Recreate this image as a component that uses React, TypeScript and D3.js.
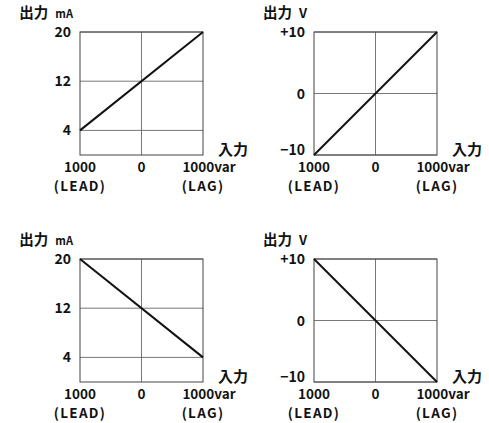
import * as d3 from 'd3';

// input axis (var)
const inputDomain = [-1000, 1000];
const xTickValues = [-1000, 0, 1000];
const xTickLabels = ['1000', '0', '1000var'];
const xTickSubLabels = ['(LEAD)', '', '(LAG)'];

// output axes
const mADomain = [0, 20];
const mATicks = [4, 12, 20];
const mATickLabels = ['4', '12', '20'];
const vDomain = [-10, 10];
const vTicks = [-10, 0, 10];
const vTickLabels = ['−10', '0', '+10'];

// output at input -1000 and +1000
const mADirect = [4, 20];
const mAReverse = [20, 4];
const vDirect = [-10, 10];
const vReverse = [10, -10];

const FONT = '"Noto Sans CJK JP", "Noto Sans", sans-serif';
const SIZE = 123;

interface PanelProps {
  ox: number;
  oy: number;
  unit: string;
  unitSize: number;
  yDomain: number[];
  yTicks: number[];
  yTickLabels: string[];
  values: number[];
}

function Panel({ ox, oy, unit, unitSize, yDomain, yTicks, yTickLabels, values }: PanelProps) {
  const x = d3.scaleLinear().domain(inputDomain).range([ox, ox + SIZE]);
  const y = d3.scaleLinear().domain(yDomain).range([oy + SIZE, oy]);
  const line = d3
    .line<number>()
    .x((_, i) => x(inputDomain[i]))
    .y((d) => y(d));

  return (
    <g fontFamily={FONT} fill="#111" fontWeight={700}>
      {/* grid */}
      {yTicks.map((t) => (
        <line key={'h' + t} x1={ox} x2={ox + SIZE} y1={y(t)} y2={y(t)} stroke="#555" strokeWidth={0.8} />
      ))}
      <line x1={x(0)} x2={x(0)} y1={oy} y2={oy + SIZE} stroke="#555" strokeWidth={0.8} />
      <rect x={ox} y={oy} width={SIZE} height={SIZE} fill="none" stroke="#444" strokeWidth={1} />
      <path d={line(values) || ''} fill="none" stroke="#111" strokeWidth={2} />

      {/* y tick labels (bottom one lifted clear of the x labels) */}
      {yTicks.map((t, i) => (
        <text
          key={'yl' + t}
          x={ox - 9}
          y={y(t) - (y(t) >= oy + SIZE - 1 ? 5 : 0)}
          dy="0.36em"
          textAnchor="end"
          fontSize={14}
        >
          {yTickLabels[i]}
        </text>
      ))}
      {/* title */}
      <text x={ox - 7} y={oy - 19} dy="0.36em" textAnchor="end" fontSize={14.5}>
        出力
        <tspan dx={7} fontSize={unitSize}>{unit}</tspan>
      </text>
      <text x={ox + SIZE + 15} y={oy + SIZE - 5} dy="0.36em" fontSize={15}>
        入力
      </text>

      {/* x tick labels */}
      {xTickValues.map((t, i) => (
        <g key={'xl' + t}>
          <text
            x={x(t) + (i === 2 ? 6 : 0)}
            y={oy + SIZE + 12}
            dy="0.36em"
            textAnchor="middle"
            fontSize={13.5}
          >
            {xTickLabels[i]}
          </text>
          <text
            x={x(t)}
            y={oy + SIZE + 31}
            dy="0.36em"
            textAnchor="middle"
            fontSize={13.5}
            letterSpacing={1.3}
          >
            {xTickSubLabels[i]}
          </text>
        </g>
      ))}
    </g>
  );
}

export default function App() {
  return (
    <svg
      width={489}
      height={423}
      viewBox="0 0 489 423"
      style={{ position: 'absolute', left: 0, top: 0, background: '#fff' }}
    >
      <Panel ox={80} oy={32} unit="mA" unitSize={11} yDomain={mADomain} yTicks={mATicks} yTickLabels={mATickLabels} values={mADirect} />
      <Panel ox={314} oy={32} unit="V" unitSize={13} yDomain={vDomain} yTicks={vTicks} yTickLabels={vTickLabels} values={vDirect} />
      <Panel ox={80} oy={259} unit="mA" unitSize={11} yDomain={mADomain} yTicks={mATicks} yTickLabels={mATickLabels} values={mAReverse} />
      <Panel ox={314} oy={259} unit="V" unitSize={13} yDomain={vDomain} yTicks={vTicks} yTickLabels={vTickLabels} values={vReverse} />
    </svg>
  );
}
